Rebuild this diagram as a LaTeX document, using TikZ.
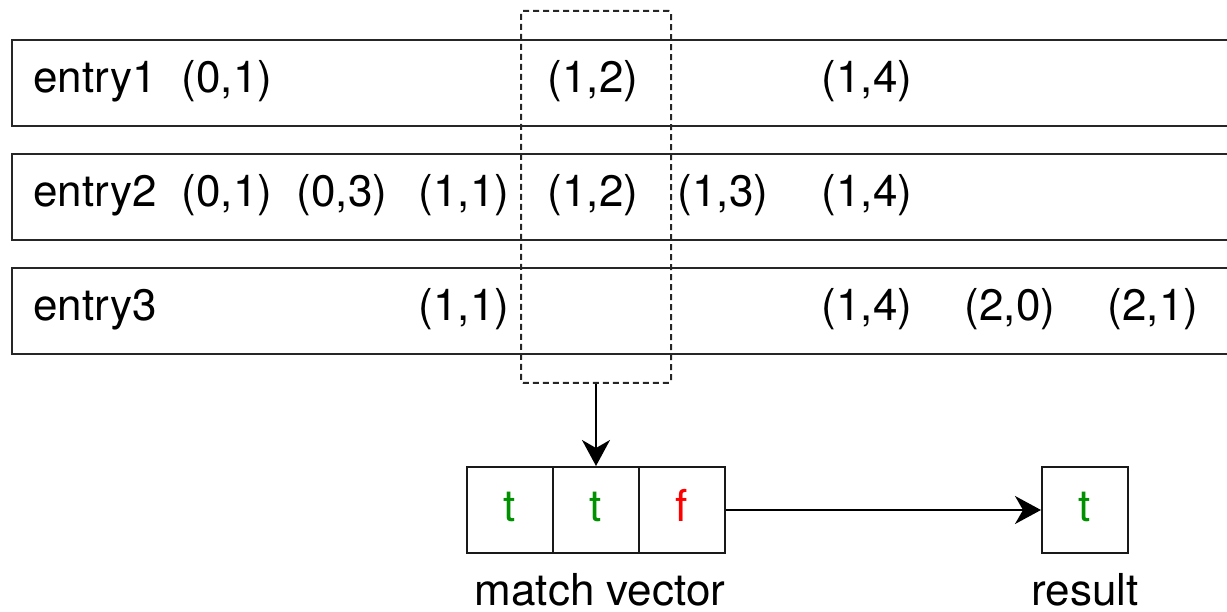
\documentclass[tikz,border=0pt]{standalone}
\usepackage{fontspec}
\setmainfont{TeX Gyre Heros}
\usetikzlibrary{arrows.meta}
\definecolor{okgreen}{RGB}{0,145,0}
\definecolor{badred}{RGB}{255,0,0}
\tikzset{
  txt/.style={inner sep=0pt, font=\fontsize{44}{53}\selectfont, text height=33pt, text depth=11pt},
  rowbox/.style={draw=black!85, line width=2pt, minimum width=1229pt, minimum height=86pt, inner sep=0pt, anchor=north west},
  selbox/.style={draw=black!85, line width=2pt, dash pattern=on 6pt off 4pt, rounded corners=2pt, minimum width=150pt, minimum height=372pt, inner sep=0pt},
  cell/.style={txt, draw=black!90, line width=2pt, minimum width=86pt, minimum height=86pt},
  conn/.style={line width=2pt, -{Stealth[length=26pt, width=28pt, inset=8pt]}},
  lbl/.style={inner sep=0pt, font=\fontsize{44}{53}\selectfont, anchor=base}
}
\begin{document}
\begin{tikzpicture}[x=1pt, y=-1pt]
  \useasboundingbox (0,0) rectangle (1227,612);
  \clip (0,0) rectangle (1227,612);

  % the three entry rows
  \node[rowbox] (row1) at (11,39) {};
  \node[rowbox] (row2) at (11,153) {};
  \node[rowbox] (row3) at (11,267) {};

  % row 1
  \node[txt, anchor=west] (e1) at (33,82) {entry1};
  \node[txt] (e1a) at (227,82) {(0,1)};
  \node[txt] (e1b) at (593,82) {(1,2)};
  \node[txt] (e1c) at (867,82) {(1,4)};

  % row 2
  \node[txt, anchor=west] (e2) at (33,196) {entry2};
  \node[txt] (e2a) at (227,196) {(0,1)};
  \node[txt] (e2b) at (342,196) {(0,3)};
  \node[txt] (e2c) at (464,196) {(1,1)};
  \node[txt] (e2d) at (593,196) {(1,2)};
  \node[txt] (e2e) at (723,196) {(1,3)};
  \node[txt] (e2f) at (867,196) {(1,4)};

  % row 3
  \node[txt, anchor=west] (e3) at (33,310) {entry3};
  \node[txt] (e3a) at (464,310) {(1,1)};
  \node[txt] (e3b) at (867,310) {(1,4)};
  \node[txt] (e3c) at (1010,310) {(2,0)};
  \node[txt] (e3d) at (1153,310) {(2,1)};

  % selected column
  \node[selbox] (sel) at (596,197) {};

  % match vector
  \node[cell, text=okgreen] (mv1) at (510,510) {t};
  \node[cell, text=okgreen] (mv2) at (596,510) {t};
  \node[cell, text=badred] (mv3) at (682,510) {f};
  \node[lbl] (mvlabel) at (600,605) {match vector};

  % result
  \node[cell, text=okgreen] (res) at (1085,510) {t};
  \node[lbl] (reslabel) at (1085,605) {result};

  % connectors
  \draw[conn] (sel.south) -- (mv2.north);
  \draw[conn] (mv3.east) -- (res.west);
\end{tikzpicture}
\end{document}
